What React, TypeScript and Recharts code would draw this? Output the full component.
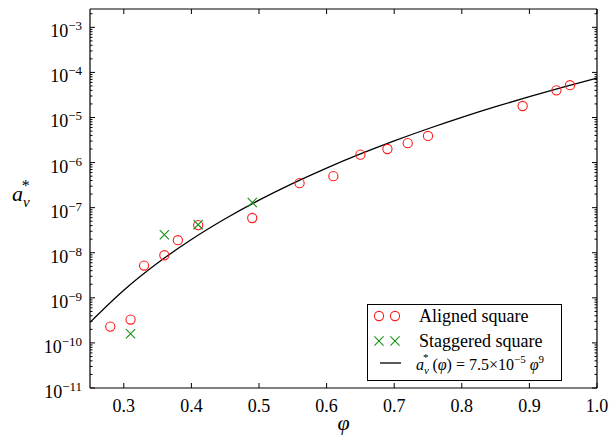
import React from 'react';
import { ComposedChart, XAxis, YAxis, Scatter, Line, Legend } from 'recharts';

// aligned square (red circles)
const alignedPhi = [0.28, 0.31, 0.33, 0.36, 0.38, 0.41, 0.49, 0.56, 0.61, 0.65, 0.69, 0.72, 0.75, 0.89, 0.94, 0.96];
const alignedA = [2.3e-10, 3.3e-10, 5.2e-9, 8.8e-9, 1.9e-8, 4.1e-8, 5.9e-8, 3.5e-7, 5.0e-7, 1.5e-6, 2.0e-6, 2.7e-6, 3.9e-6, 1.8e-5, 4.0e-5, 5.2e-5];

// staggered square (green crosses)
const staggeredPhi = [0.31, 0.36, 0.41, 0.49];
const staggeredA = [1.6e-10, 2.5e-8, 4.2e-8, 1.3e-7];

// fit a*(phi) = 7.5e-5 phi^9, tabulated
const fitPhi = [0.25, 0.3, 0.35, 0.4, 0.45, 0.5, 0.55, 0.6, 0.65, 0.7, 0.75, 0.8, 0.85, 0.9, 0.95, 1.0];
const fitA = [2.861e-10, 1.476e-9, 5.911e-9, 1.966e-8, 5.675e-8, 1.465e-7, 3.454e-7, 7.558e-7, 1.553e-6, 3.027e-6, 5.631e-6, 1.007e-5, 1.737e-5, 2.906e-5, 4.727e-5, 7.5e-5];

const xTicks = [0.3, 0.4, 0.5, 0.6, 0.7, 0.8, 0.9, 1.0];
const yExponents = [-11, -10, -9, -8, -7, -6, -5, -4, -3];

const Y_TOP = 2.55e-3;
const FONT = 'Liberation Serif, Times New Roman, serif';
const RED = '#ff1a1a';
const GREEN = '#158f15';

const aligned = alignedPhi.map((phi, i) => ({ phi, a: alignedA[i] }));
const staggered = staggeredPhi.map((phi, i) => ({ phi, a: staggeredA[i] }));
const fit = fitPhi.map((phi, i) => ({ phi, a: fitA[i] }));

const yTicks: number[] = [];
yExponents.forEach((e) => {
  for (let m = 1; m <= 9; m++) {
    const v = m * Math.pow(10, e);
    if (v <= Y_TOP) yTicks.push(v);
  }
});

const isMajor = (v: number) => {
  const lg = Math.log10(v);
  return Math.abs(lg - Math.round(lg)) < 1e-6;
};

const LeftTick = (props: any) => {
  const { x, y, payload } = props;
  const major = isMajor(payload.value);
  const e = Math.round(Math.log10(payload.value));
  return (
    <g>
      <line x1={x} x2={x + (major ? 5 : 2.5)} y1={y} y2={y} stroke="#000" strokeWidth={1} />
      {major && (
        <text x={x - 8} y={y + 10} textAnchor="end" fontSize={18} fill="#000" fontFamily={FONT}>
          10<tspan fontSize={13} dy={-7}>{'\u2212' + -e}</tspan>
        </text>
      )}
    </g>
  );
};

const RightTick = (props: any) => {
  const { x, y, payload } = props;
  const major = isMajor(payload.value);
  return <line x1={x} x2={x - (major ? 5 : 2.5)} y1={y} y2={y} stroke="#000" strokeWidth={1} />;
};

const BottomTick = (props: any) => {
  const { x, y, payload } = props;
  return (
    <g>
      <line x1={x} x2={x} y1={y} y2={y - 5} stroke="#000" strokeWidth={1} />
      <text x={x} y={y + 24} textAnchor="middle" fontSize={18} fill="#000" fontFamily={FONT}>
        {payload.value.toFixed(1)}
      </text>
    </g>
  );
};

const TopTick = (props: any) => {
  const { x, y } = props;
  return <line x1={x} x2={x} y1={y} y2={y + 5} stroke="#000" strokeWidth={1} />;
};

const Circle = (props: any) => {
  const { cx, cy } = props;
  return <circle cx={cx} cy={cy} r={4.6} fill="none" stroke={RED} strokeWidth={1.1} />;
};

const Cross = (props: any) => {
  const { cx, cy } = props;
  const s = 4.6;
  return (
    <path
      d={`M${cx - s},${cy - s}L${cx + s},${cy + s}M${cx - s},${cy + s}L${cx + s},${cy - s}`}
      stroke={GREEN}
      strokeWidth={1.1}
      fill="none"
    />
  );
};

const renderLegend = () => (
  <svg width={196} height={78} style={{ display: 'block' }} fontFamily={FONT}>
    <rect x={0.5} y={0.5} width={194} height={76} fill="#fff" stroke="#000" strokeWidth={1} />
    <circle cx={12} cy={12} r={4.6} fill="none" stroke={RED} strokeWidth={1.1} />
    <circle cx={28} cy={12} r={4.6} fill="none" stroke={RED} strokeWidth={1.1} />
    <text x={52} y={18} fontSize={18} fill="#000">Aligned square</text>
    {[12, 28].map((cx) => (
      <path
        key={cx}
        d={`M${cx - 4.6},${37 - 4.6}L${cx + 4.6},${37 + 4.6}M${cx - 4.6},${37 + 4.6}L${cx + 4.6},${37 - 4.6}`}
        stroke={GREEN}
        strokeWidth={1.1}
      />
    ))}
    <text x={52} y={43} fontSize={18} fill="#000">Staggered square</text>
    <line x1={13} x2={34} y1={59} y2={59} stroke="#000" strokeWidth={1.3} />
    <text x={49} y={66} fontSize={16} fill="#000">
      <tspan fontStyle="italic">a</tspan>
      <tspan fontStyle="italic" fontSize={11} dy={4}>v</tspan>
      <tspan fontSize={11} dx={-6} dy={-13}>*</tspan>
      <tspan dx={4} dy={9}>(</tspan>
      <tspan fontStyle="italic">φ</tspan>
      <tspan>) = 7.5×10</tspan>
      <tspan fontSize={11} dy={-7}>−5</tspan>
      <tspan fontStyle="italic" dx={4} dy={7}>φ</tspan>
      <tspan fontSize={11} dy={-7}>9</tspan>
    </text>
  </svg>
);

const YLabel = (props: any) => {
  const { viewBox } = props;
  const x = viewBox.x + 2;
  const y = viewBox.y + viewBox.height / 2 + 2;
  return (
    <text x={x} y={y} fontSize={22} fill="#000" fontFamily={FONT}>
      <tspan fontStyle="italic">a</tspan>
      <tspan fontStyle="italic" fontSize={15} dy={6}>v</tspan>
      <tspan fontSize={16} dx={-8} dy={-16}>*</tspan>
    </text>
  );
};

const XLabel = (props: any) => {
  const { viewBox } = props;
  const x = viewBox.x + viewBox.width / 2;
  return (
    <text x={x} y={viewBox.y + 42} textAnchor="middle" fontSize={22} fontStyle="italic" fill="#000" fontFamily={FONT}>
      φ
    </text>
  );
};

export default function App() {
  return (
    <div style={{ position: 'absolute', left: 0, top: 0, background: '#fff' }}>
      <ComposedChart width={612} height={443} margin={{ top: 8, right: 14, bottom: 0, left: 10 }}>
        <XAxis
          xAxisId="bottom"
          type="number"
          dataKey="phi"
          domain={[0.25, 1]}
          allowDataOverflow
          ticks={xTicks}
          interval={0}
          height={55}
          tickSize={0}
          tickMargin={0}
          tickLine={false}
          tick={<BottomTick />}
          axisLine={{ stroke: '#000', strokeWidth: 1.2 }}
          label={<XLabel />}
        />
        <XAxis
          xAxisId="top"
          orientation="top"
          type="number"
          dataKey="phi"
          domain={[0.25, 1]}
          allowDataOverflow
          ticks={xTicks}
          interval={0}
          height={1}
          tickSize={0}
          tickMargin={0}
          tickLine={false}
          tick={<TopTick />}
          axisLine={{ stroke: '#000', strokeWidth: 1.2 }}
        />
        <YAxis
          yAxisId="left"
          type="number"
          dataKey="a"
          scale="log"
          domain={[1e-11, Y_TOP]}
          allowDataOverflow
          ticks={yTicks}
          interval={0}
          width={80}
          tickSize={0}
          tickMargin={0}
          tickLine={false}
          tick={<LeftTick />}
          axisLine={{ stroke: '#000', strokeWidth: 1.2 }}
          label={<YLabel />}
        />
        <YAxis
          yAxisId="right"
          orientation="right"
          type="number"
          dataKey="a"
          scale="log"
          domain={[1e-11, Y_TOP]}
          allowDataOverflow
          ticks={yTicks}
          interval={0}
          width={1}
          tickSize={0}
          tickMargin={0}
          tickLine={false}
          tick={<RightTick />}
          axisLine={{ stroke: '#000', strokeWidth: 1.2 }}
        />
        <Line
          xAxisId="bottom"
          yAxisId="left"
          data={fit}
          dataKey="a"
          type="monotone"
          dot={false}
          stroke="#000"
          strokeWidth={1.3}
          isAnimationActive={false}
        />
        <Scatter
          xAxisId="bottom"
          yAxisId="left"
          data={aligned}
          dataKey="a"
          shape={<Circle />}
          isAnimationActive={false}
        />
        <Scatter
          xAxisId="bottom"
          yAxisId="left"
          data={staggered}
          dataKey="a"
          shape={<Cross />}
          isAnimationActive={false}
        />
        <Legend
          layout="vertical"
          align="center"
          verticalAlign="middle"
          content={renderLegend}
          wrapperStyle={{ position: 'absolute', left: 367, top: 304, width: 196, height: 78 }}
        />
      </ComposedChart>
    </div>
  );
}
